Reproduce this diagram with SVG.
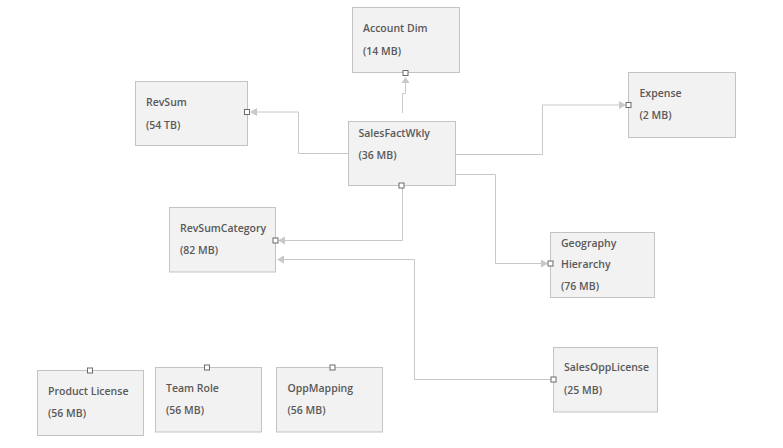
<svg xmlns="http://www.w3.org/2000/svg" width="783" height="448" viewBox="0 0 783 448">
<style>
.box{fill:#f2f2f2;stroke:#c3c3c3;stroke-width:1}
.t{font-family:"Open Sans","Noto Sans",sans-serif;font-size:10.5px;font-weight:600;fill:#595959}
.c{fill:none;stroke:#c8c8c8;stroke-width:1}
.port{fill:#ffffff;stroke:#6b6b6b;stroke-width:1}
.ah{fill:#c8c8c8}
</style>
<rect width="783" height="448" fill="#ffffff"/>
<g id="connectors">
<polyline class="c" points="402.5,113 402.5,93.5 405.5,93.5 405.5,82"/>
<polygon class="ah" points="405.5,77 401.5,83 409.5,83"/>
<polyline class="c" points="348.5,153.5 298.5,153.5 298.5,112 256,112"/>
<polygon class="ah" points="250,112 257,108 257,116"/>
<polyline class="c" points="455.5,154.5 542.5,154.5 542.5,105 620,105"/>
<polygon class="ah" points="626,105 619,101 619,109"/>
<polyline class="c" points="455.5,174.5 495.5,174.5 495.5,263.5 542,263.5"/>
<polygon class="ah" points="548,263.5 541,259.5 541,267.5"/>
<polyline class="c" points="402.5,188 402.5,240.5 284,240.5"/>
<polygon class="ah" points="278,240.5 285,236.5 285,244.5"/>
<polyline class="c" points="553,379.5 414.5,379.5 414.5,259.5 284,259.5"/>
<polygon class="ah" points="277,259.5 284,255.5 284,263.5"/>
</g>
<g id="account-dim">
<rect class="box" x="352.5" y="7.5" width="107" height="65"/>
<text class="t" x="363" y="32">Account Dim</text>
<text class="t" x="363" y="54.5">(14 MB)</text>
<rect class="port" x="403" y="70.5" width="5" height="5"/>
</g>
<g id="revsum">
<rect class="box" x="135.5" y="81.5" width="112" height="64"/>
<text class="t" x="146" y="106">RevSum</text>
<text class="t" x="146" y="128.5">(54 TB)</text>
<rect class="port" x="244.5" y="109.5" width="5" height="5"/>
</g>
<g id="salesfactwkly">
<rect class="box" x="348.5" y="121.5" width="107" height="64"/>
<text class="t" x="358.5" y="137">SalesFactWkly</text>
<text class="t" x="358.5" y="159">(36 MB)</text>
<rect class="port" x="399" y="183" width="5" height="5"/>
</g>
<g id="expense">
<rect class="box" x="628.5" y="72.5" width="107" height="65"/>
<text class="t" x="639.5" y="97">Expense</text>
<text class="t" x="639.5" y="118.5">(2 MB)</text>
<rect class="port" x="626" y="102.5" width="5" height="5"/>
</g>
<g id="revsumcategory">
<rect class="box" x="169.5" y="207.5" width="106" height="64.5"/>
<text class="t" x="180" y="232">RevSumCategory</text>
<text class="t" x="180" y="253.5">(82 MB)</text>
<rect class="port" x="273" y="238" width="5" height="5"/>
</g>
<g id="geography-hierarchy">
<rect class="box" x="550.5" y="232.5" width="104" height="65"/>
<text class="t" x="561" y="246.5">Geography</text>
<text class="t" x="561" y="267.5">Hierarchy</text>
<text class="t" x="561" y="290">(76 MB)</text>
<rect class="port" x="548" y="261" width="5" height="5"/>
</g>
<g id="salesopplicense">
<rect class="box" x="553.5" y="347.5" width="104" height="64.5"/>
<text class="t" x="564" y="371">SalesOppLicense</text>
<text class="t" x="564" y="393.5">(25 MB)</text>
<rect class="port" x="551" y="377" width="5" height="5"/>
</g>
<g id="product-license">
<rect class="box" x="37.5" y="370.5" width="106" height="65"/>
<text class="t" x="48" y="395">Product License</text>
<text class="t" x="48" y="417">(56 MB)</text>
<rect class="port" x="87.5" y="368" width="5" height="5"/>
</g>
<g id="team-role">
<rect class="box" x="155.5" y="367.5" width="106" height="64.5"/>
<text class="t" x="166" y="392">Team Role</text>
<text class="t" x="166" y="414">(56 MB)</text>
<rect class="port" x="204.5" y="365" width="5" height="5"/>
</g>
<g id="oppmapping">
<rect class="box" x="276.5" y="367.5" width="106" height="64.5"/>
<text class="t" x="287.5" y="392">OppMapping</text>
<text class="t" x="287.5" y="414">(56 MB)</text>
<rect class="port" x="330" y="365" width="5" height="5"/>
</g>
</svg>
